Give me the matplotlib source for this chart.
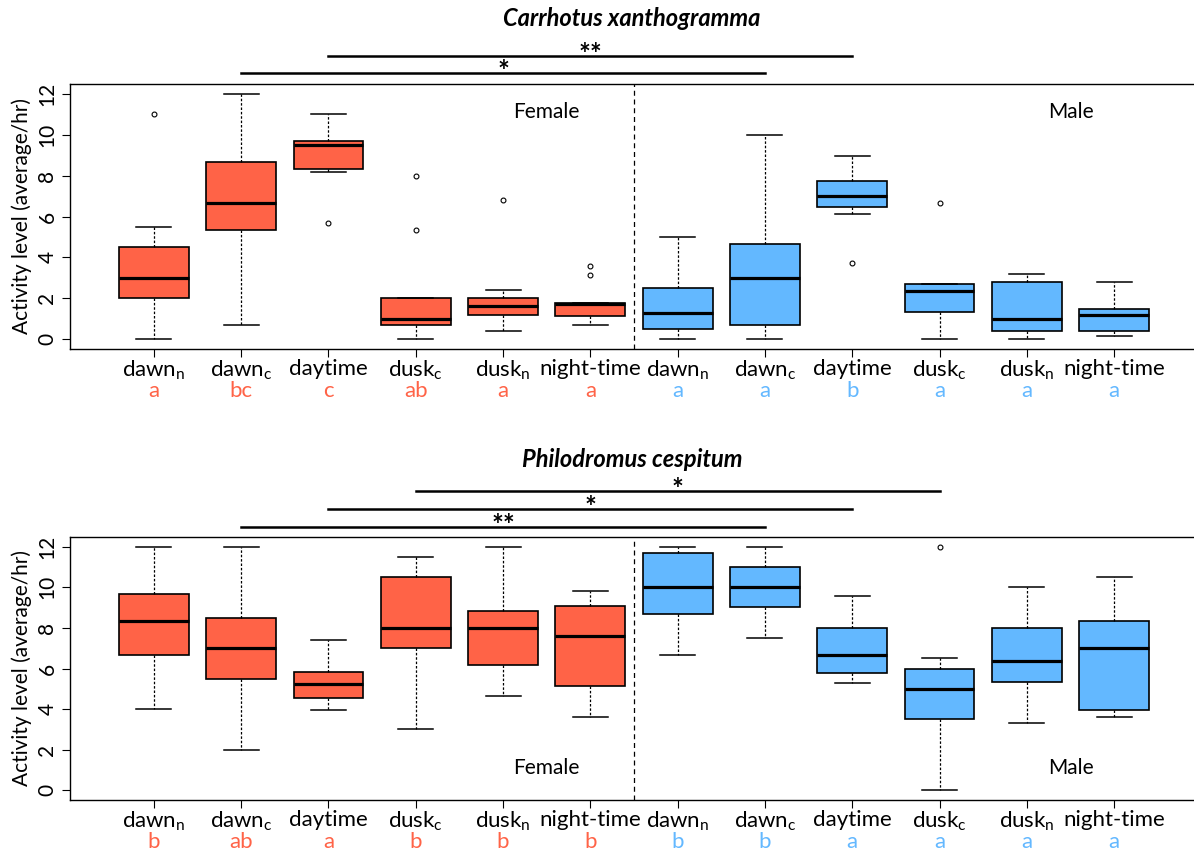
import numpy as np
import matplotlib
matplotlib.use("Agg")
import matplotlib.pyplot as plt

plt.rcParams['font.family'] = ['Lato', 'DejaVu Sans']
plt.rcParams['mathtext.fontset'] = 'custom'
plt.rcParams['mathtext.rm'] = 'Lato'
plt.rcParams['mathtext.it'] = 'Lato:italic'
plt.rcParams['mathtext.bf'] = 'Lato:bold'

# ---- data ----
labels = [r"dawn$_\mathrm{n}$", r"dawn$_\mathrm{c}$", "daytime", r"dusk$_\mathrm{c}$",
          r"dusk$_\mathrm{n}$", "night-time"] * 2
female_col = "#FF6347"
male_col = "#63B8FF"

# Carrhotus xanthogramma: whislo, q1, med, q3, whishi, fliers
carr_whislo = [0.0, 0.67, 8.2, 0.0, 0.4, 0.67, 0.0, 0.0, 6.1, 0.0, 0.0, 0.15]
carr_q1     = [2.0, 5.33, 8.33, 0.67, 1.2, 1.12, 0.5, 0.67, 6.47, 1.35, 0.4, 0.42]
carr_med    = [3.0, 6.67, 9.5, 1.0, 1.6, 1.7, 1.27, 3.0, 7.0, 2.34, 1.0, 1.2]
carr_q3     = [4.5, 8.67, 9.67, 2.0, 2.0, 1.75, 2.52, 4.67, 7.76, 2.68, 2.8, 1.5]
carr_whishi = [5.5, 12.0, 11.0, 2.0, 2.4, 1.75, 5.0, 10.0, 8.94, 2.68, 3.2, 2.8]
carr_fliers = [[11.0], [], [5.7], [8.0, 5.33], [6.8], [3.13, 3.56],
               [], [], [3.74], [6.68], [], []]
carr_letters = ["a", "bc", "c", "ab", "a", "a", "a", "a", "b", "a", "a", "a"]

# Philodromus cespitum
phil_whislo = [4.0, 2.0, 3.94, 3.0, 4.66, 3.61, 6.66, 7.5, 5.27, 0.0, 3.33, 3.61]
phil_q1     = [6.66, 5.5, 4.53, 7.0, 6.17, 5.14, 8.68, 9.01, 5.78, 3.51, 5.33, 3.94]
phil_med    = [8.32, 7.0, 5.22, 8.0, 8.0, 7.6, 10.0, 10.0, 6.68, 5.0, 6.35, 7.0]
phil_q3     = [9.67, 8.49, 5.84, 10.5, 8.83, 9.08, 11.67, 11.0, 7.98, 6.0, 7.99, 8.34]
phil_whishi = [12.0, 12.0, 7.39, 11.5, 12.0, 9.82, 12.0, 12.0, 9.59, 6.5, 10.03, 10.49]
phil_fliers = [[], [], [], [], [], [], [], [], [], [12.0], [], []]
phil_letters = ["b", "ab", "a", "b", "b", "b", "b", "b", "a", "a", "a", "a"]

# significance bars: (from, to, label, height)
carr_sig = [(3, 9, "**", 13.87), (2, 8, "*", 13.02)]
phil_sig = [(4, 10, "*", 14.76), (3, 9, "*", 13.88), (2, 8, "**", 12.99)]

positions = np.arange(1, 13)

fig = plt.figure(figsize=(11.94, 8.5), dpi=100)
ax1 = fig.add_axes([70 / 1194, 1 - 349 / 850, 1128 / 1194, 265 / 850])
ax2 = fig.add_axes([70 / 1194, 1 - 800 / 850, 1128 / 1194, 263 / 850])


def draw_panel(ax, whislo, q1, med, q3, whishi, fliers, letters, sig, txt_y):
    stats = []
    for i in range(12):
        stats.append(dict(whislo=whislo[i], q1=q1[i], med=med[i], q3=q3[i],
                          whishi=whishi[i], fliers=fliers[i]))
    bp = ax.bxp(stats, positions=positions, widths=0.8, capwidths=0.4,
                patch_artist=True, showfliers=True,
                boxprops=dict(edgecolor="black", linewidth=1.2),
                medianprops=dict(color="black", linewidth=2.3),
                whiskerprops=dict(color="black", linewidth=0.9, linestyle=(0, (2, 1.5))),
                capprops=dict(color="black", linewidth=1.1),
                flierprops=dict(marker="o", markersize=3.5, markerfacecolor="none",
                                markeredgecolor="black", markeredgewidth=0.8))
    for i, patch in enumerate(bp["boxes"]):
        patch.set_facecolor(female_col if i < 6 else male_col)

    ax.set_xlim(0.04, 12.96)
    ax.set_ylim(-0.48, 12.48)
    ax.set_yticks([0, 2, 4, 6, 8, 10, 12])
    ax.set_xticks(positions)
    ax.set_xticklabels(labels, fontsize=16)
    ax.tick_params(axis="x", length=6, pad=1)
    ax.tick_params(axis="y", length=6, pad=3, labelsize=15, labelrotation=90)
    for lbl in ax.get_yticklabels():
        lbl.set_va("center")
    ax.set_ylabel("Activity level (average/hr)", fontsize=15, labelpad=4)
    ax.spines["right"].set_visible(False)
    for sp in ax.spines.values():
        sp.set_linewidth(1.0)

    ax.axvline(6.5, color="black", linestyle=(0, (4, 3)), linewidth=0.9)

    for i, let in enumerate(letters):
        ax.annotate(let, xy=(positions[i], 0), xycoords=("data", "axes fraction"),
                    xytext=(0, -42 * 0.72), textcoords="offset points",
                    ha="center", va="center", fontsize=16,
                    color=female_col if i < 6 else male_col)

    for (a, b, s, h) in sig:
        ax.plot([a, b], [h, h], color="black", linewidth=1.8, clip_on=False)
        ax.text((a + b) / 2, h + 0.05, s, ha="center", va="center",
                fontsize=20, fontweight="bold", clip_on=False)

    ax.text(5.5, txt_y, "Female", ha="center", va="center", fontsize=15)
    ax.text(11.5, txt_y, "Male", ha="center", va="center", fontsize=15)


draw_panel(ax1, carr_whislo, carr_q1, carr_med, carr_q3, carr_whishi,
           carr_fliers, carr_letters, carr_sig, 11.1)
draw_panel(ax2, phil_whislo, phil_q1, phil_med, phil_q3, phil_whishi,
           phil_fliers, phil_letters, phil_sig, 1.1)

fig.text(632 / 1194, 1 - 18 / 850, "Carrhotus xanthogramma", ha="center", va="center",
         fontsize=17, fontweight="bold", fontstyle="italic")
fig.text(632 / 1194, 1 - 460 / 850, "Philodromus cespitum", ha="center", va="center",
         fontsize=17, fontweight="bold", fontstyle="italic")

fig.savefig("out.png", dpi=100)
